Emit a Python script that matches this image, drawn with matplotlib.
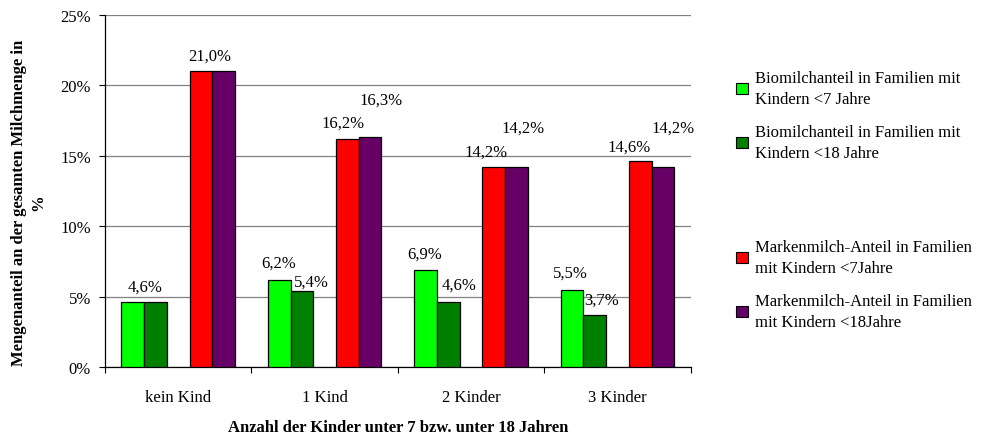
import matplotlib
matplotlib.use("Agg")
import matplotlib.pyplot as plt
from matplotlib.patches import Patch
from matplotlib.ticker import FixedLocator, PercentFormatter
import numpy as np

# --- data -------------------------------------------------------------
categories = ["kein Kind", "1 Kind", "2 Kinder", "3 Kinder"]
bio_u7 = [4.6, 6.2, 6.9, 5.5]
bio_u18 = [4.6, 5.4, 4.6, 3.7]
marke_u7 = [21.0, 16.2, 14.2, 14.6]
marke_u18 = [21.0, 16.3, 14.2, 14.2]
series_names = [
    "Biomilchanteil in Familien mit\nKindern <7 Jahre",
    "Biomilchanteil in Familien mit\nKindern <18 Jahre",
    "Markenmilch-Anteil in Familien\nmit Kindern <7Jahre",
    "Markenmilch-Anteil in Familien\nmit Kindern <18Jahre",
]
y_ticks = [0, 5, 10, 15, 20, 25]

# --- styling ----------------------------------------------------------
colors = ["#00FF00", "#008000", "#FF0000", "#660066"]
slot = [-2, -1, 1, 2]          # slot 0 stays empty between the two pairs
bar_w = 0.155
# value label placement (pixel offsets from the top centre of each bar);
# None where the label coincides with the neighbouring bar's label
label_offsets = [
    [(12, 16), (-1, 17), (-1, 16), (-2, 17)],
    [None, (9, 9), (11, 18), (7, 15)],
    [(9, 16), (-4, 16), (-8, 15), (-11, 15)],
    [None, (11, 38), (7, 39), (10, 39)],
]

plt.rcParams["font.family"] = ["Liberation Serif", "DejaVu Serif"]
FS = 12

fig = plt.figure(figsize=(9.92, 4.39), dpi=100)
W, H = 992, 439
ax = fig.add_axes([105 / W, (H - 368) / H, (690.7 - 105) / W, (368 - 16) / H])

x = np.arange(len(categories))
all_series = [bio_u7, bio_u18, marke_u7, marke_u18]
for s, (vals, col, name) in enumerate(zip(all_series, colors, series_names)):
    xs = x + slot[s] * bar_w
    ax.bar(xs, vals, width=bar_w, color=col, edgecolor="black",
           linewidth=0.9, label=name, zorder=3)
    for i, v in enumerate(vals):
        if label_offsets[s][i] is None:
            continue
        dx, dy = label_offsets[s][i]
        ax.annotate(f"{v:.1f}%".replace(".", ","), xy=(xs[i], v),
                    xytext=(dx, dy), textcoords="offset pixels",
                    ha="center", va="center", fontsize=FS, zorder=4)

ax.set_xlim(-0.5, len(categories) - 0.5)
ax.set_ylim(0, 25)
ax.yaxis.set_major_locator(FixedLocator(y_ticks))
ax.yaxis.set_major_formatter(PercentFormatter(decimals=0))
ax.grid(axis="y", color="#808080", linewidth=0.9, zorder=0)

# group separators as major ticks, category names on minor ticks
ax.set_xticks(np.arange(len(categories) + 1) - 0.5)
ax.set_xticklabels([])
ax.set_xticks(x, minor=True)
ax.set_xticklabels(categories, minor=True, fontsize=FS)
ax.tick_params(axis="x", which="major", direction="out", length=4, width=0.8)
ax.tick_params(axis="x", which="minor", length=0, pad=16)
ax.tick_params(axis="y", direction="out", length=4, width=0.8, pad=6,
               labelsize=FS)

for side in ("top", "right"):
    ax.spines[side].set_visible(False)
ax.spines["left"].set_linewidth(0.9)
ax.spines["bottom"].set_linewidth(0.9)

ax.set_xlabel("Anzahl der Kinder unter 7 bzw. unter 18 Jahren",
              fontsize=FS, fontweight="bold", labelpad=10)
fig.text(29 / W, (H - 203) / H,
         "Mengenanteil an der gesamten Milchmenge in\n%",
         rotation=90, ha="center", va="center", ma="center",
         fontsize=FS, fontweight="bold", linespacing=1.25)

handles = [Patch(facecolor=c, edgecolor="black", linewidth=0.8) for c in colors]
for idx, top in ((0, 71), (2, 240)):
    leg = fig.legend(handles[idx:idx + 2], series_names[idx:idx + 2],
                     loc="upper left", bbox_to_anchor=(736 / W, (H - top) / H),
                     frameon=False, fontsize=FS, handlelength=0.7,
                     handleheight=0.7, handletextpad=0.45, labelspacing=1.05,
                     borderaxespad=0, borderpad=0)
    for t in leg.get_texts():
        t.set_linespacing(1.38)

fig.savefig("out.png", dpi=100)
